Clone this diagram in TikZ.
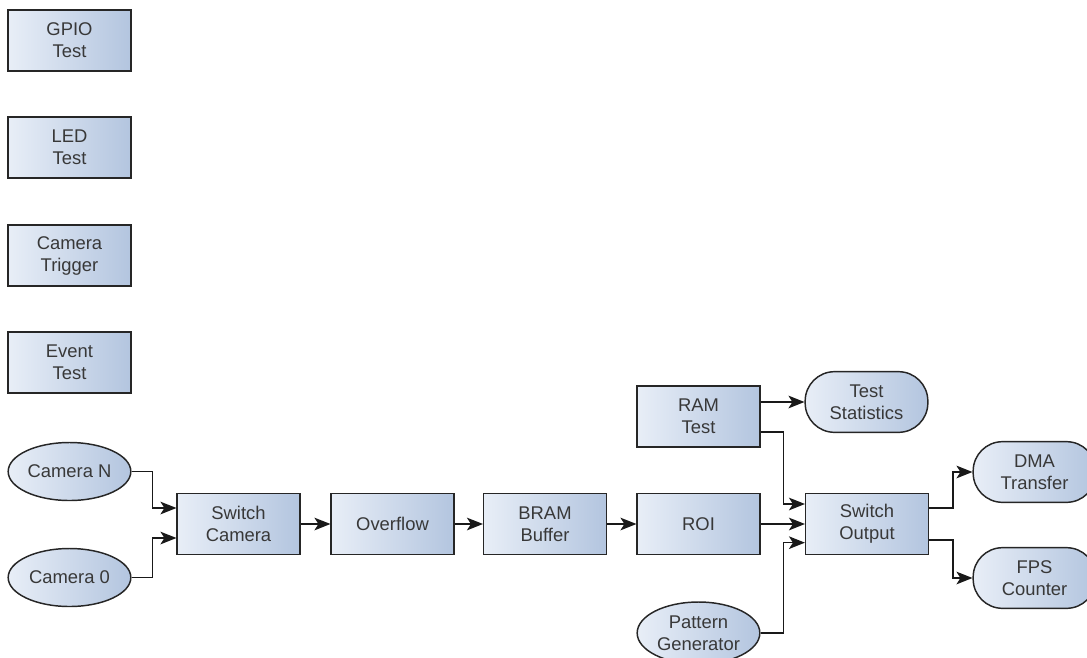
\documentclass[tikz,border=0pt]{standalone}
\usepackage{fontspec}
\setmainfont{Liberation Sans}
\usetikzlibrary{shapes.geometric,arrows.meta}
\definecolor{boxlight}{HTML}{E8EEF7}
\definecolor{boxdark}{HTML}{B3C5DF}
\definecolor{txt}{HTML}{383838}
\begin{document}
\begin{tikzpicture}[x=0.75pt,y=-0.75pt,
  blk/.style={draw=black!85,line width=1.1pt,left color=boxlight,right color=boxdark,text=txt,
    minimum width=92pt,minimum height=45.5pt,inner sep=0pt,align=center,
    font=\fontsize{13.8}{16.5}\selectfont},
  box/.style={blk,rectangle},
  oval/.style={blk,ellipse,minimum height=43.5pt},
  pill/.style={blk,rectangle,rounded corners=22pt},
  link/.style={line width=1.1pt,black!90,-{Stealth[length=12pt,width=9.5pt,inset=3pt]}}]
\clip (0,0) rectangle (1087,657);
\node[box](gpio) at (69.5,40.5){GPIO\\Test};
\node[box](led) at (69.5,147.5){LED\\Test};
\node[box](trig) at (69.5,255.5){Camera\\Trigger};
\node[box](event) at (69.5,362.5){Event\\Test};
\node[oval](camn) at (69.5,471.5){Camera N};
\node[oval](cam0) at (69.5,577.5){Camera 0};
\node[box](swcam) at (238.5,524){Switch\\Camera};
\node[box](overflow) at (392.5,524){Overflow};
\node[box](bram) at (545,524){BRAM\\Buffer};
\node[box](roi) at (698.5,524){ROI};
\node[box](ram) at (698.5,416.5){RAM\\Test};
\node[pill](stats) at (866.5,402){Test\\Statistics};
\node[box](swout) at (867,524){Switch\\Output};
\node[pill](dma) at (1034.5,472){DMA\\Transfer};
\node[pill](fps) at (1034.5,578){FPS\\Counter};
\node[oval,minimum height=46.5pt](pattern) at (698.5,633){Pattern\\Generator};
\draw[link](camn.east) -- ++(21,0) |- ([yshift=12pt]swcam.west);
\draw[link](cam0.east) -- ++(21,0) |- ([yshift=-10.5pt]swcam.west);
\draw[link](swcam.east) -- (overflow.west);
\draw[link](overflow.east) -- (bram.west);
\draw[link](bram.east) -- (roi.west);
\draw[link](roi.east) -- (swout.west);
\draw[link](ram.east |- stats.west) -- (stats.west);
\draw[link]([yshift=-11.5pt]ram.east) -- ++(23,0) |- ([yshift=15pt]swout.west);
\draw[link](pattern.east) -- ++(23,0) |- ([yshift=-14pt]swout.west);
\draw[link]([yshift=12pt]swout.east) -- ++(24,0) |- (dma.west);
\draw[link]([yshift=-12pt]swout.east) -- ++(24,0) |- (fps.west);
\end{tikzpicture}
\end{document}
